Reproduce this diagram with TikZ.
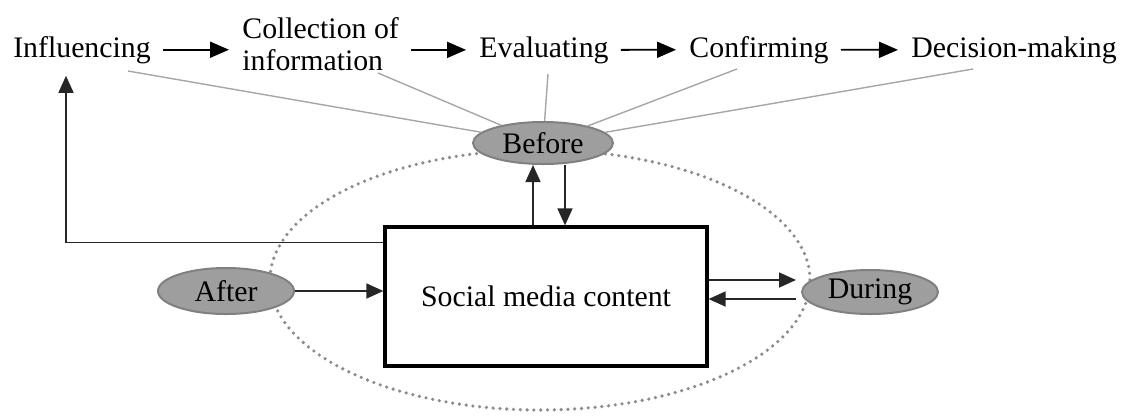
\documentclass[tikz,border=0pt]{standalone}
\usepackage{fontspec}
\setmainfont{Liberation Serif}
\usetikzlibrary{arrows.meta,shapes.geometric,calc}
\begin{document}
\begin{tikzpicture}[x=0.5pt,y=-0.5pt,
  stage/.style={font=\fontsize{14.9}{16.2}\selectfont, inner sep=2pt},
  toparrow/.style={line width=0.9pt, -{Triangle[length=9.5pt,width=8pt]},
                   shorten <=4pt, shorten >=4.5pt},
  arr/.style={line width=0.8pt, draw=black!85, -{Triangle[length=8.5pt,width=7.5pt]}},
  ray/.style={line width=0.7pt, draw=black!35},
  phase/.style={ellipse, draw=black!50, line width=1pt, fill=black!38,
                inner sep=0pt, font=\fontsize{14.9}{16}\selectfont},
  contentbox/.style={rectangle, draw=black, line width=1.6pt, fill=white,
                     minimum width=161pt, minimum height=69.5pt,
                     font=\fontsize{14.9}{16}\selectfont},
  ring/.style={draw=black!45, line width=1.8pt, line cap=round,
               dash pattern=on 0pt off 3.4pt}]
\useasboundingbox (0,0) rectangle (1124,419);

% dotted ring of the three phases
\draw[ring] (540,280) ellipse [x radius=135pt, y radius=65pt];

% stages of the decision process
\node[stage, anchor=base] (infl) at (82,57) {Influencing};
\node[stage, anchor=west, align=left] (coll) at (238,44) {Collection of\\information};
\node[stage, anchor=base] (eval) at (544,57) {Evaluating};
\node[stage, anchor=base] (conf) at (759,57) {Confirming};
\node[stage, anchor=base] (dec) at (1014,57) {Decision-making};

\draw[toparrow] (infl.east) -- (infl.east -| coll.west);
\draw[toparrow] (coll.east |- eval.west) -- (eval.west);
\draw[toparrow] (eval.east) -- (conf.west);
\draw[toparrow] (conf.east) -- (dec.west);

% phase ellipses and the central box
\node[phase, minimum width=70pt, minimum height=21pt] (before) at (543,143) {Before};
\node[phase, minimum width=68pt, minimum height=23pt] (after) at (226,291) {After};
\node[phase, minimum width=68pt, minimum height=22pt] (during) at (870,292) {During};
\node[contentbox] (box) at (546,296.5) {Social media content};

% rays from the stages to "Before"
\coordinate (r1) at (128,71);
\coordinate (r2) at (378,73);
\coordinate (r3) at (548,74);
\coordinate (r4) at (737,69);
\coordinate (r5) at (973,69);
\foreach \r in {r1,r2,r3,r4,r5}
  \draw[ray] (\r) -- (before);

% box <-> Before
\coordinate (upA) at ($(box.north)+(-13,0)$);
\coordinate (dnA) at ($(box.north)+(19,0)$);
\draw[arr] (upA) -- (upA |- before.south);
\draw[arr] (dnA |- before.south) -- (dnA);

% feedback to Influencing
\coordinate (fbA) at ($(box.north west)+(0,17)$);
\coordinate (fbT) at ($(infl.south)+(-16,8)$);
\draw[arr] (fbA) -| (fbT);

% After -> box
\draw[arr] (after.east) -- (after.east -| box.west);

% box <-> During
\coordinate (dOut) at ($(box.east)+(0,-16.5)$);
\coordinate (dIn) at ($(box.east)+(0,2.5)$);
\draw[arr, shorten >=2.5pt] (dOut) -- (dOut -| during.west);
\draw[arr, shorten <=2.5pt] (dIn -| during.west) -- (dIn);
\end{tikzpicture}
\end{document}
